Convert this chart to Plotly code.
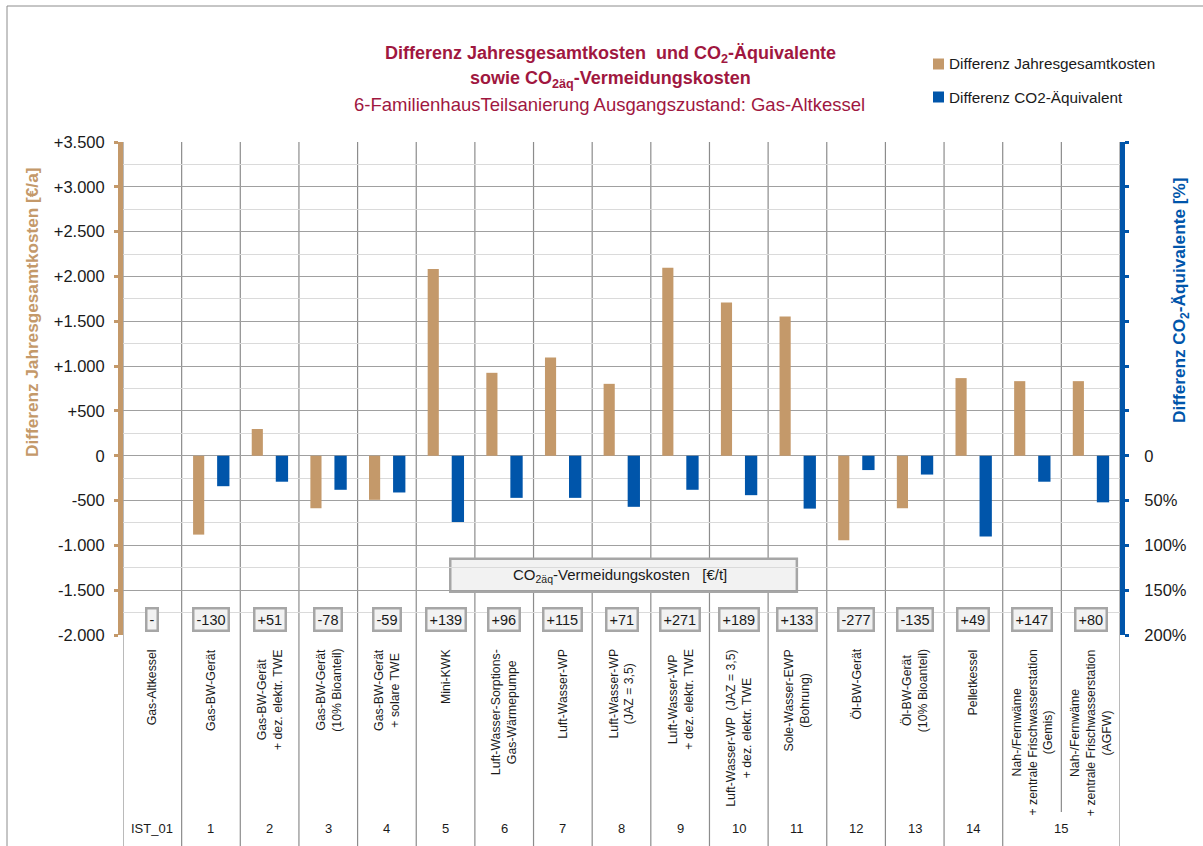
import plotly.graph_objects as go

# ---------------- data ----------------
categories = [
    "Gas-Altkessel",
    "Gas-BW-Gerät",
    "Gas-BW-Gerät<br>+ dez. elektr. TWE",
    "Gas-BW-Gerät<br>(10% Bioanteil)",
    "Gas-BW-Gerät<br>+ solare TWE",
    "Mini-KWK",
    "Luft-Wasser-Sorptions-<br>Gas-Wärmepumpe",
    "Luft-Wasser-WP",
    "Luft-Wasser-WP<br>(JAZ = 3,5)",
    "Luft-Wasser-WP<br>+ dez. elektr. TWE",
    "Luft-Wasser-WP  (JAZ = 3,5)<br>+ dez. elektr. TWE",
    "Sole-Wasser-EWP<br>(Bohrung)",
    "Öl-BW-Gerät",
    "Öl-BW-Gerät<br>(10% Bioanteil)",
    "Pelletkessel",
    "Nah-/Fernwäme<br>+ zentrale Frischwasserstation<br>(Gemis)",
    "Nah-/Fernwäme<br>+ zentrale Frischwasserstation<br>(AGFW)",
]
scenario_group = ["IST_01", "1", "2", "3", "4", "5", "6", "7", "8", "9", "10",
                  "11", "12", "13", "14", "15", "15"]
cost_diff = [0, -880, 298, -586, -492, 2082, 925, 1097, 802, 2097, 1709, 1552,
             -944, -586, 866, 832, 832]
co2_diff_pct = [0, -34, -29, -38, -41, -74, -47, -47, -57, -38, -44, -59,
                -16, -21, -90, -29, -52]
avoid_cost = ["-", "-130", "+51", "-78", "-59", "+139", "+96", "+115", "+71",
              "+271", "+189", "+133", "-277", "-135", "+49", "+147", "+80"]

left_tickvals = [-2000, -1500, -1000, -500, 0, 500, 1000, 1500, 2000, 2500, 3000, 3500]
left_ticktext = ["-2.000", "-1.500", "-1.000", "-500", "0", "+500", "+1.000",
                 "+1.500", "+2.000", "+2.500", "+3.000", "+3.500"]
right_tickvals = [-200, -150, -100, -50, 0]
right_ticktext = ["200%", "150%", "100%", "50%", "0"]

series_names = ["Differenz Jahresgesamtkosten", "Differenz CO2-Äquivalent"]

# ---------------- style ----------------
TAN = "#C4996A"
BLUE = "#0055AA"
TITLE_C = "#A0173F"
TXT = "#1a1a1a"
FONT = "Liberation Sans, Arial, sans-serif"
MAJOR = "#A0A0A0"
MINOR = "#DADADA"
VLINE = "#8C8C8C"

W, H = 1203, 846
L, R, T, B = 123, 83, 142, 211
PH = H - T - B


def py(pix):
    """pixel y (from top) -> paper y"""
    return (H - B - pix) / PH


def px(pix):
    return (pix - L) / (W - L - R)


n = len(categories)
xs = list(range(n))

fig = go.Figure()
fig.add_trace(go.Bar(x=xs, y=cost_diff, name=series_names[0], width=0.19, offset=-0.305,
                     marker=dict(color=TAN, line=dict(width=0)), showlegend=False))
fig.add_trace(go.Bar(x=xs, y=co2_diff_pct, name=series_names[1], width=0.21, offset=0.105,
                     marker=dict(color=BLUE, line=dict(width=0)), yaxis="y2", showlegend=False))

shapes = []
annotations = []

# vertical separators through plot and label area
for i in range(n + 1):
    xb = i - 0.5
    y0 = py(846)
    if 0 < i < n and scenario_group[i] == scenario_group[i - 1]:
        y0 = py(812)
    shapes.append(dict(type="line", xref="x", yref="paper", x0=xb, x1=xb, y0=y0, y1=1,
                       line=dict(color=VLINE, width=1.2), layer="below"))

# header box for avoidance costs
shapes.append(dict(type="rect", xref="x", yref="y", x0=5.08, x1=10.99, y0=-1518, y1=-1150,
                   fillcolor="#F2F2F2", line=dict(color="#A6A6A6", width=2.5), layer="below"))
annotations.append(dict(xref="x", yref="y", x=7.98, y=-1334, xanchor="center", yanchor="middle",
                        text="CO<sub>2äq</sub>-Vermeidungskosten   [€/t]", showarrow=False,
                        font=dict(family=FONT, size=15, color=TXT)))

# outer frame (left & top)
shapes.append(dict(type="line", xref="paper", yref="paper", x0=px(7), x1=px(7),
                   y0=py(850), y1=py(6), line=dict(color="#8C8C8C", width=1)))
shapes.append(dict(type="line", xref="paper", yref="paper", x0=px(7), x1=px(1210),
                   y0=py(6), y1=py(6), line=dict(color="#8C8C8C", width=1)))

# manual legend
for k, (nm, col, cy) in enumerate(zip(series_names, [TAN, BLUE], [64, 97])):
    shapes.append(dict(type="rect", xref="paper", yref="paper", x0=px(933), x1=px(944),
                       y0=py(cy + 5.5), y1=py(cy - 5.5), fillcolor=col, line=dict(width=0)))
    annotations.append(dict(xref="paper", yref="paper", x=px(947), y=py(cy), xanchor="left",
                            yanchor="middle", text=nm, showarrow=False,
                            font=dict(family=FONT, size=15.3, color=TXT)))

# titles
annotations.append(dict(xref="paper", yref="paper", x=px(610), y=py(55), showarrow=False,
                        xanchor="center", yanchor="middle",
                        text="<b>Differenz Jahresgesamtkosten  und CO<sub>2</sub>-Äquivalente</b>",
                        font=dict(family=FONT, size=18, color=TITLE_C)))
annotations.append(dict(xref="paper", yref="paper", x=px(610), y=py(79), showarrow=False,
                        xanchor="center", yanchor="middle",
                        text="<b>sowie CO<sub>2äq</sub>-Vermeidungskosten</b>",
                        font=dict(family=FONT, size=18, color=TITLE_C)))
annotations.append(dict(xref="paper", yref="paper", x=px(609), y=py(104), showarrow=False,
                        xanchor="center", yanchor="middle",
                        text="6-FamilienhausTeilsanierung Ausgangszustand: Gas-Altkessel",
                        font=dict(family=FONT, size=18.5, color=TITLE_C)))

# axis titles
annotations.append(dict(xref="paper", yref="paper", x=px(32), y=py(313), showarrow=False,
                        xanchor="center", yanchor="middle",
                        textangle=-90, text="<b>Differenz Jahresgesamtkosten [€/a]</b>",
                        font=dict(family=FONT, size=17.2, color=TAN)))
annotations.append(dict(xref="paper", yref="paper", x=px(1180), y=py(301), showarrow=False,
                        xanchor="center", yanchor="middle",
                        textangle=-90, text="<b>Differenz CO<sub>2</sub>-Äquivalente [%]</b>",
                        font=dict(family=FONT, size=17.2, color=BLUE)))

# category labels (rotated) and avoidance cost boxes
for i, (cat, ac) in enumerate(zip(categories, avoid_cost)):
    annotations.append(dict(xref="x", yref="paper", x=i, y=py(647), xanchor="center",
                            yanchor="top", textangle=-90, text=cat, showarrow=False,
                            font=dict(family=FONT, size=12.3, color=TXT)))
    annotations.append(dict(xref="x", yref="y", x=i, y=-1830, text=ac, showarrow=False,
                            xanchor="center", yanchor="middle",
                            bgcolor="#F2F2F2", bordercolor="#A6A6A6", borderwidth=2.5,
                            borderpad=2, font=dict(family=FONT, size=14.5, color=TXT)))

# scenario numbers (grouped)
seen = []
for g in scenario_group:
    if g not in seen:
        seen.append(g)
for g in seen:
    idx = [i for i, s in enumerate(scenario_group) if s == g]
    annotations.append(dict(xref="x", yref="paper", x=sum(idx) / len(idx), y=py(828),
                            xanchor="center", yanchor="middle",
                            text=g, showarrow=False,
                            font=dict(family=FONT, size=13, color=TXT)))

fig.update_layout(
    width=W, height=H,
    margin=dict(l=L, r=R, t=T, b=B, pad=0),
    paper_bgcolor="white", plot_bgcolor="white",
    barmode="overlay",
    showlegend=False,
    shapes=shapes, annotations=annotations,
    xaxis=dict(range=[-0.5, n - 0.5], showticklabels=False, showgrid=False, zeroline=False,
               showline=False, ticks=""),
    yaxis=dict(range=[-2000, 3500], tickmode="array", tickvals=left_tickvals,
               ticktext=left_ticktext, showgrid=True, gridcolor=MAJOR, gridwidth=1.2,
               zeroline=False, showline=True, linecolor=TAN, linewidth=5,
               ticks="outside", ticklen=4, tickwidth=3, tickcolor=TAN,
               ticklabelstandoff=6,
               tickfont=dict(family=FONT, size=16.5, color=TXT),
               minor=dict(tick0=0, dtick=250, showgrid=True, gridcolor=MINOR, gridwidth=1)),
    yaxis2=dict(range=[-200, 350], overlaying="y", side="right", tickmode="array",
                tickvals=right_tickvals, ticktext=right_ticktext, showgrid=False,
                zeroline=False, showline=True, linecolor=BLUE, linewidth=5,
                ticks="outside", ticklen=4, tickwidth=3, tickcolor=BLUE,
                ticklabelstandoff=12,
                tickfont=dict(family=FONT, size=16.5, color=TXT),
                minor=dict(tick0=0, dtick=50, ticks="outside", ticklen=4, tickwidth=3,
                           tickcolor=BLUE, showgrid=False)),
)

fig.write_html("out.html")
